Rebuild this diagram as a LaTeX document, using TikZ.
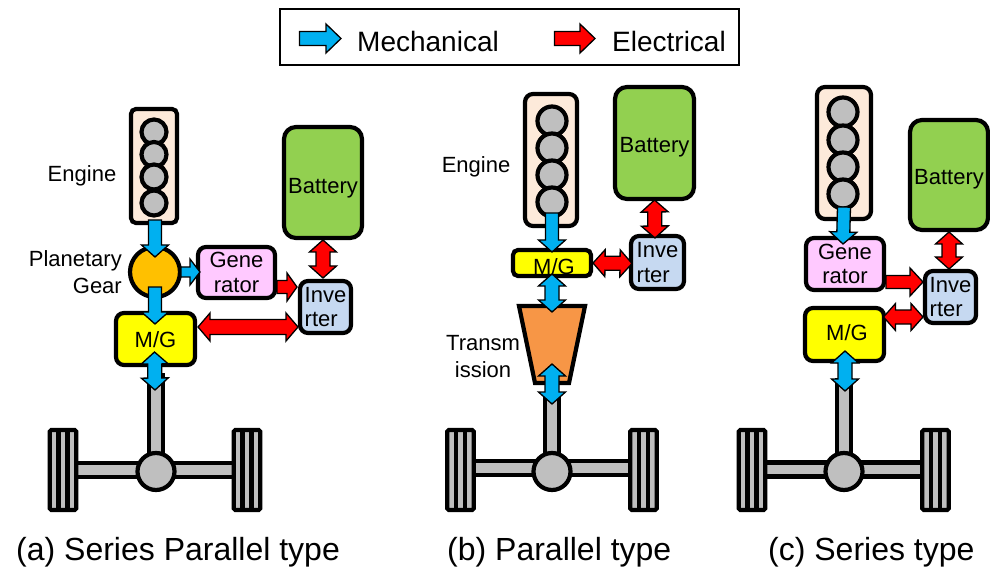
\documentclass[tikz,border=0pt]{standalone}
\usepackage{fontspec}
\setmainfont{Liberation Sans}
\usetikzlibrary{calc}
\definecolor{mech}{HTML}{00B0F0}
\definecolor{elec}{HTML}{FF0000}
\definecolor{engfill}{HTML}{FDEADA}
\definecolor{cylgray}{HTML}{BFBFBF}
\definecolor{gearfill}{HTML}{FFC000}
\definecolor{genfill}{HTML}{FFC9FF}
\definecolor{mgfill}{HTML}{FFFF00}
\definecolor{invfill}{HTML}{C6D9F1}
\definecolor{batfill}{HTML}{92D050}
\definecolor{trfill}{HTML}{F79646}
\tikzset{
  lbl/.style={font=\fontsize{22}{24.5}\selectfont, inner sep=0pt},
  box/.style={draw=black, line width=4.2pt, rounded corners=#1, outer sep=0pt, inner sep=0pt, align=center, lbl},
  box/.default=8pt,
  cyl/.style={circle, draw=black, line width=4.2pt, fill=cylgray, minimum size=25pt, inner sep=0pt, outer sep=0pt},
  hub/.style={circle, draw=black, line width=4.2pt, fill=cylgray, minimum size=37pt, inner sep=0pt, outer sep=0pt},
  tread/.style={draw=black, line width=4.2pt, fill=cylgray, rounded corners=1.5pt, minimum width=26.5pt, minimum height=80pt, inner sep=0pt, outer sep=0pt},
  treadline/.style={draw=black, line width=4.2pt},
  axle/.style={draw=black, line width=4.2pt, fill=cylgray},
  blockarrow/.style={draw=black, line width=1.3pt, line join=miter},
  capt/.style={font=\fontsize{32}{36}\selectfont, inner sep=0pt, anchor=base west},
  legendtxt/.style={font=\fontsize{28}{32}\selectfont, inner sep=0pt, anchor=base west},
}
% text whose baseline lies #1 below the node centre, taking no room of its own
\newcommand\lowtext[2]{\raisebox{-#1pt}[0pt][0pt]{#2}}
% [shaft half width/head half width/head length]{colour}{from}{to}
\def\arrowparse#1/#2/#3\relax{\def\asw{#1pt}\def\ahw{#2pt}\def\ahl{#3pt}}
\newcommand\sarrow[4][6.5/13.5/12]{%
  \arrowparse#1\relax
  \coordinate (A) at #3; \coordinate (B) at #4;
  \coordinate (H) at ($(B)!\ahl!(A)$);
  \draw[blockarrow, fill=#2] ($(A)!\asw!90:(B)$) -- ($(H)!\asw!90:(B)$) -- ($(H)!\ahw!90:(B)$) -- (B)
    -- ($(H)!\ahw!-90:(B)$) -- ($(H)!\asw!-90:(B)$) -- ($(A)!\asw!-90:(B)$) -- cycle;}
\newcommand\darrow[4][6.5/13.5/12]{%
  \arrowparse#1\relax
  \coordinate (A) at #3; \coordinate (B) at #4;
  \coordinate (H) at ($(B)!\ahl!(A)$);
  \coordinate (G) at ($(A)!\ahl!(B)$);
  \draw[blockarrow, fill=#2] (A) -- ($(G)!\ahw!-90:(A)$) -- ($(G)!\asw!-90:(A)$) -- ($(H)!\asw!90:(B)$) -- ($(H)!\ahw!90:(B)$) -- (B)
    -- ($(H)!\ahw!-90:(B)$) -- ($(H)!\asw!-90:(B)$) -- ($(G)!\asw!90:(A)$) -- ($(G)!\ahw!90:(A)$) -- cycle;}
% {prefix}{left wheel centre x}{right wheel centre x}{hub x}{axle y}{shaft top y}
\newcommand\drivetrain[6]{%
  \draw[axle] (#4-7,#6) rectangle (#4+7,#5);
  \draw[axle] (#2,#5-7) rectangle (#3,#5+7);
  \node[tread] (#1wl) at (#2,470) {};
  \node[tread] (#1wr) at (#3,470) {};
  \foreach \w in {#1wl,#1wr}{
    \draw[treadline] ($(\w.north)+(-4.5,0)$) -- ($(\w.south)+(-4.5,0)$);
    \draw[treadline] ($(\w.north)+(4.5,0)$) -- ($(\w.south)+(4.5,0)$);
  }
  \node[hub] (#1hub) at (#4,471.5) {};
}
\begin{document}
\begin{tikzpicture}[x=1pt,y=-1pt]
\useasboundingbox (0,0) rectangle (990,569);

% legend
\node[draw=black, line width=1.5pt, minimum width=459pt, minimum height=56pt, inner sep=0pt, outer sep=0pt] (legend) at (509.5,37) {};
\coordinate (lm1) at (299.5,38.5); \coordinate (lm2) at (341,38.5);
\coordinate (le1) at (554.5,38.5); \coordinate (le2) at (595,38.5);
\sarrow[7/14.5/15]{mech}{(lm1)}{(lm2)}
\sarrow[7/14.5/15]{elec}{(le1)}{(le2)}
\node[legendtxt] (lmt) at (357,52) {Mechanical};
\node[legendtxt] (let) at (612,52) {Electrical};

% ---------- (a) ----------
\drivetrain{a}{63}{247}{156}{470}{375}
\node[box=5pt, fill=engfill, minimum width=46pt, minimum height=114pt] (eA) at (154,166) {};
\node[cyl, minimum size=25pt] (ac1) at (154,132) {};
\node[cyl, minimum size=25pt] (ac2) at (154,154.5) {};
\node[cyl, minimum size=25pt] (ac3) at (154,177) {};
\node[cyl, minimum size=25pt] (ac4) at (154,203) {};
\node[lbl] (engA) at (82,176) {Engine};
\node[box=12pt, fill=batfill, minimum width=78pt, minimum height=111pt] (bA) at (323,182.5) {\lowtext{11}{Battery}};
\node[circle, draw=black, line width=4.2pt, fill=gearfill, minimum size=50pt, inner sep=0pt, outer sep=0pt] (gA) at (155,272) {};
\node[lbl, align=right, anchor=east] (pgA) at (122,272) {Planetary\\[2pt]Gear};
\node[box, fill=genfill, minimum width=77pt, minimum height=51pt] (gnA) at (236.5,272.5) {Gene\\rator};
\node[box, fill=mgfill, minimum width=79pt, minimum height=52pt] (mA) at (155.5,339) {\lowtext{8}{M/G}};
\node[box, fill=invfill, minimum width=51pt, minimum height=52pt, align=left] (iA) at (325.5,307) {Inve\\rter};
\sarrow{mech}{($(eA.south)+(1,-3)$)}{($(gA.north)+(0,10)$)}
\sarrow[5/13/10]{mech}{($(gA.east)+(1,0)$)}{($(gnA.west)+(2,-0.5)$)}
\sarrow{mech}{($(gA.south)+(0,-10)$)}{($(mA.north)+(-0.5,11)$)}
\sarrow[6.5/14/10]{elec}{($(gnA.east)+(2,14.5)$)}{($(iA.west)+(-3,-20)$)}
\darrow[7/13.5/12]{elec}{($(bA.south)+(0,2)$)}{($(iA.north)+(-2.5,-3)$)}
\darrow[7.5/14/12]{elec}{($(mA.east)+(3,-12)$)}{($(iA.west)+(-2,20)$)}
\darrow[7/13.5/12]{mech}{($(mA.south)+(-1,-13)$)}{(155,390)}
\node[capt] (capA) at (16,560.5) {(a) Series Parallel type};

% ---------- (b) ----------
\drivetrain{b}{460.5}{643.5}{552}{468}{395}
\node[box=8pt, fill=engfill, minimum width=52pt, minimum height=132pt] (eB) at (551,160) {};
\node[cyl, minimum size=29pt] (bc1) at (552,121) {};
\node[cyl, minimum size=29pt] (bc2) at (552,148) {};
\node[cyl, minimum size=29pt] (bc3) at (552,175) {};
\node[cyl, minimum size=29pt] (bc4) at (552,202) {};
\node[lbl] (engB) at (476,167) {Engine};
\node[box=12pt, fill=batfill, minimum width=79pt, minimum height=112pt] (bB) at (654.5,143) {\lowtext{10}{Battery}};
\node[box=5pt, fill=mgfill, minimum width=78pt, minimum height=26pt] (mB) at (552,263) {\lowtext{12}{\hspace*{4pt}M/G}};
\node[box, fill=invfill, minimum width=53pt, minimum height=53pt, align=left] (iB) at (657.5,262.5) {Inve\\rter};
\coordinate (tBn) at (552,306); \coordinate (tBs) at (552,383);
\draw[line width=4.2pt, fill=trfill, line join=miter] ($(tBn)+(-33,0)$) -- ($(tBn)+(33,0)$) -- ($(tBs)+(17,0)$) -- ($(tBs)+(-17,0)$) -- cycle;
\node[lbl, align=center] (trB) at (483,356.5) {Transm\\[2pt]ission};
\sarrow{mech}{($(eB.south)+(1,-13)$)}{($(mB.north)+(0,2)$)}
\darrow[7/13.5/12]{elec}{($(bB.south)+(0,1)$)}{($(iB.north)+(-2.5,2)$)}
\darrow[7/13.5/12]{elec}{($(mB.east)+(2,0)$)}{($(iB.west)+(1,1)$)}
\darrow[7/13.5/12]{mech}{($(mB.south)+(0,-2)$)}{($(tBn)+(0,6)$)}
\darrow[7/13.5/12]{mech}{($(tBs)+(0,-19)$)}{(552,404)}
\node[capt] (capB) at (447,560.5) {(b) Parallel type};

% ---------- (c) ----------
\drivetrain{c}{752}{935.5}{844}{469.5}{380}
\node[box=8pt, fill=engfill, minimum width=54pt, minimum height=132pt] (eC) at (844,153) {};
\node[cyl, minimum size=29pt] (cc1) at (843,112) {};
\node[cyl, minimum size=29pt] (cc2) at (843,140) {};
\node[cyl, minimum size=29pt] (cc3) at (843,167) {};
\node[cyl, minimum size=29pt] (cc4) at (843,194) {};
\node[box=12pt, fill=batfill, minimum width=78pt, minimum height=110pt] (bC) at (949,175) {\lowtext{10}{Battery}};
\node[box, fill=genfill, minimum width=78pt, minimum height=52pt] (gnC) at (845,264) {Gene\\rator};
\node[box, fill=mgfill, minimum width=79pt, minimum height=53pt] (mC) at (844.5,334.5) {\lowtext{5.5}{\hspace*{5pt}M/G}};
\node[box, fill=invfill, minimum width=51pt, minimum height=52pt, align=left] (iC) at (950.5,297) {Inve\\rter};
\sarrow{mech}{($(eC.south)+(0,-12)$)}{($(gnC.north)+(-2,6)$)}
\sarrow[6.5/14/13]{elec}{($(gnC.east)+(2,18)$)}{($(iC.west)+(-2,-15)$)}
\darrow[7/13.5/12]{elec}{($(bC.south)+(0,2)$)}{($(iC.north)+(-1.5,-2)$)}
\darrow[7/13.5/12]{elec}{($(mC.east)+(-0.5,-17.5)$)}{($(iC.west)+(-2,20)$)}
\darrow[7/13.5/12]{mech}{($(mC.south)+(0.5,-10)$)}{(845,391)}
\node[capt] (capC) at (768,560.5) {(c) Series type};
\end{tikzpicture}
\end{document}
